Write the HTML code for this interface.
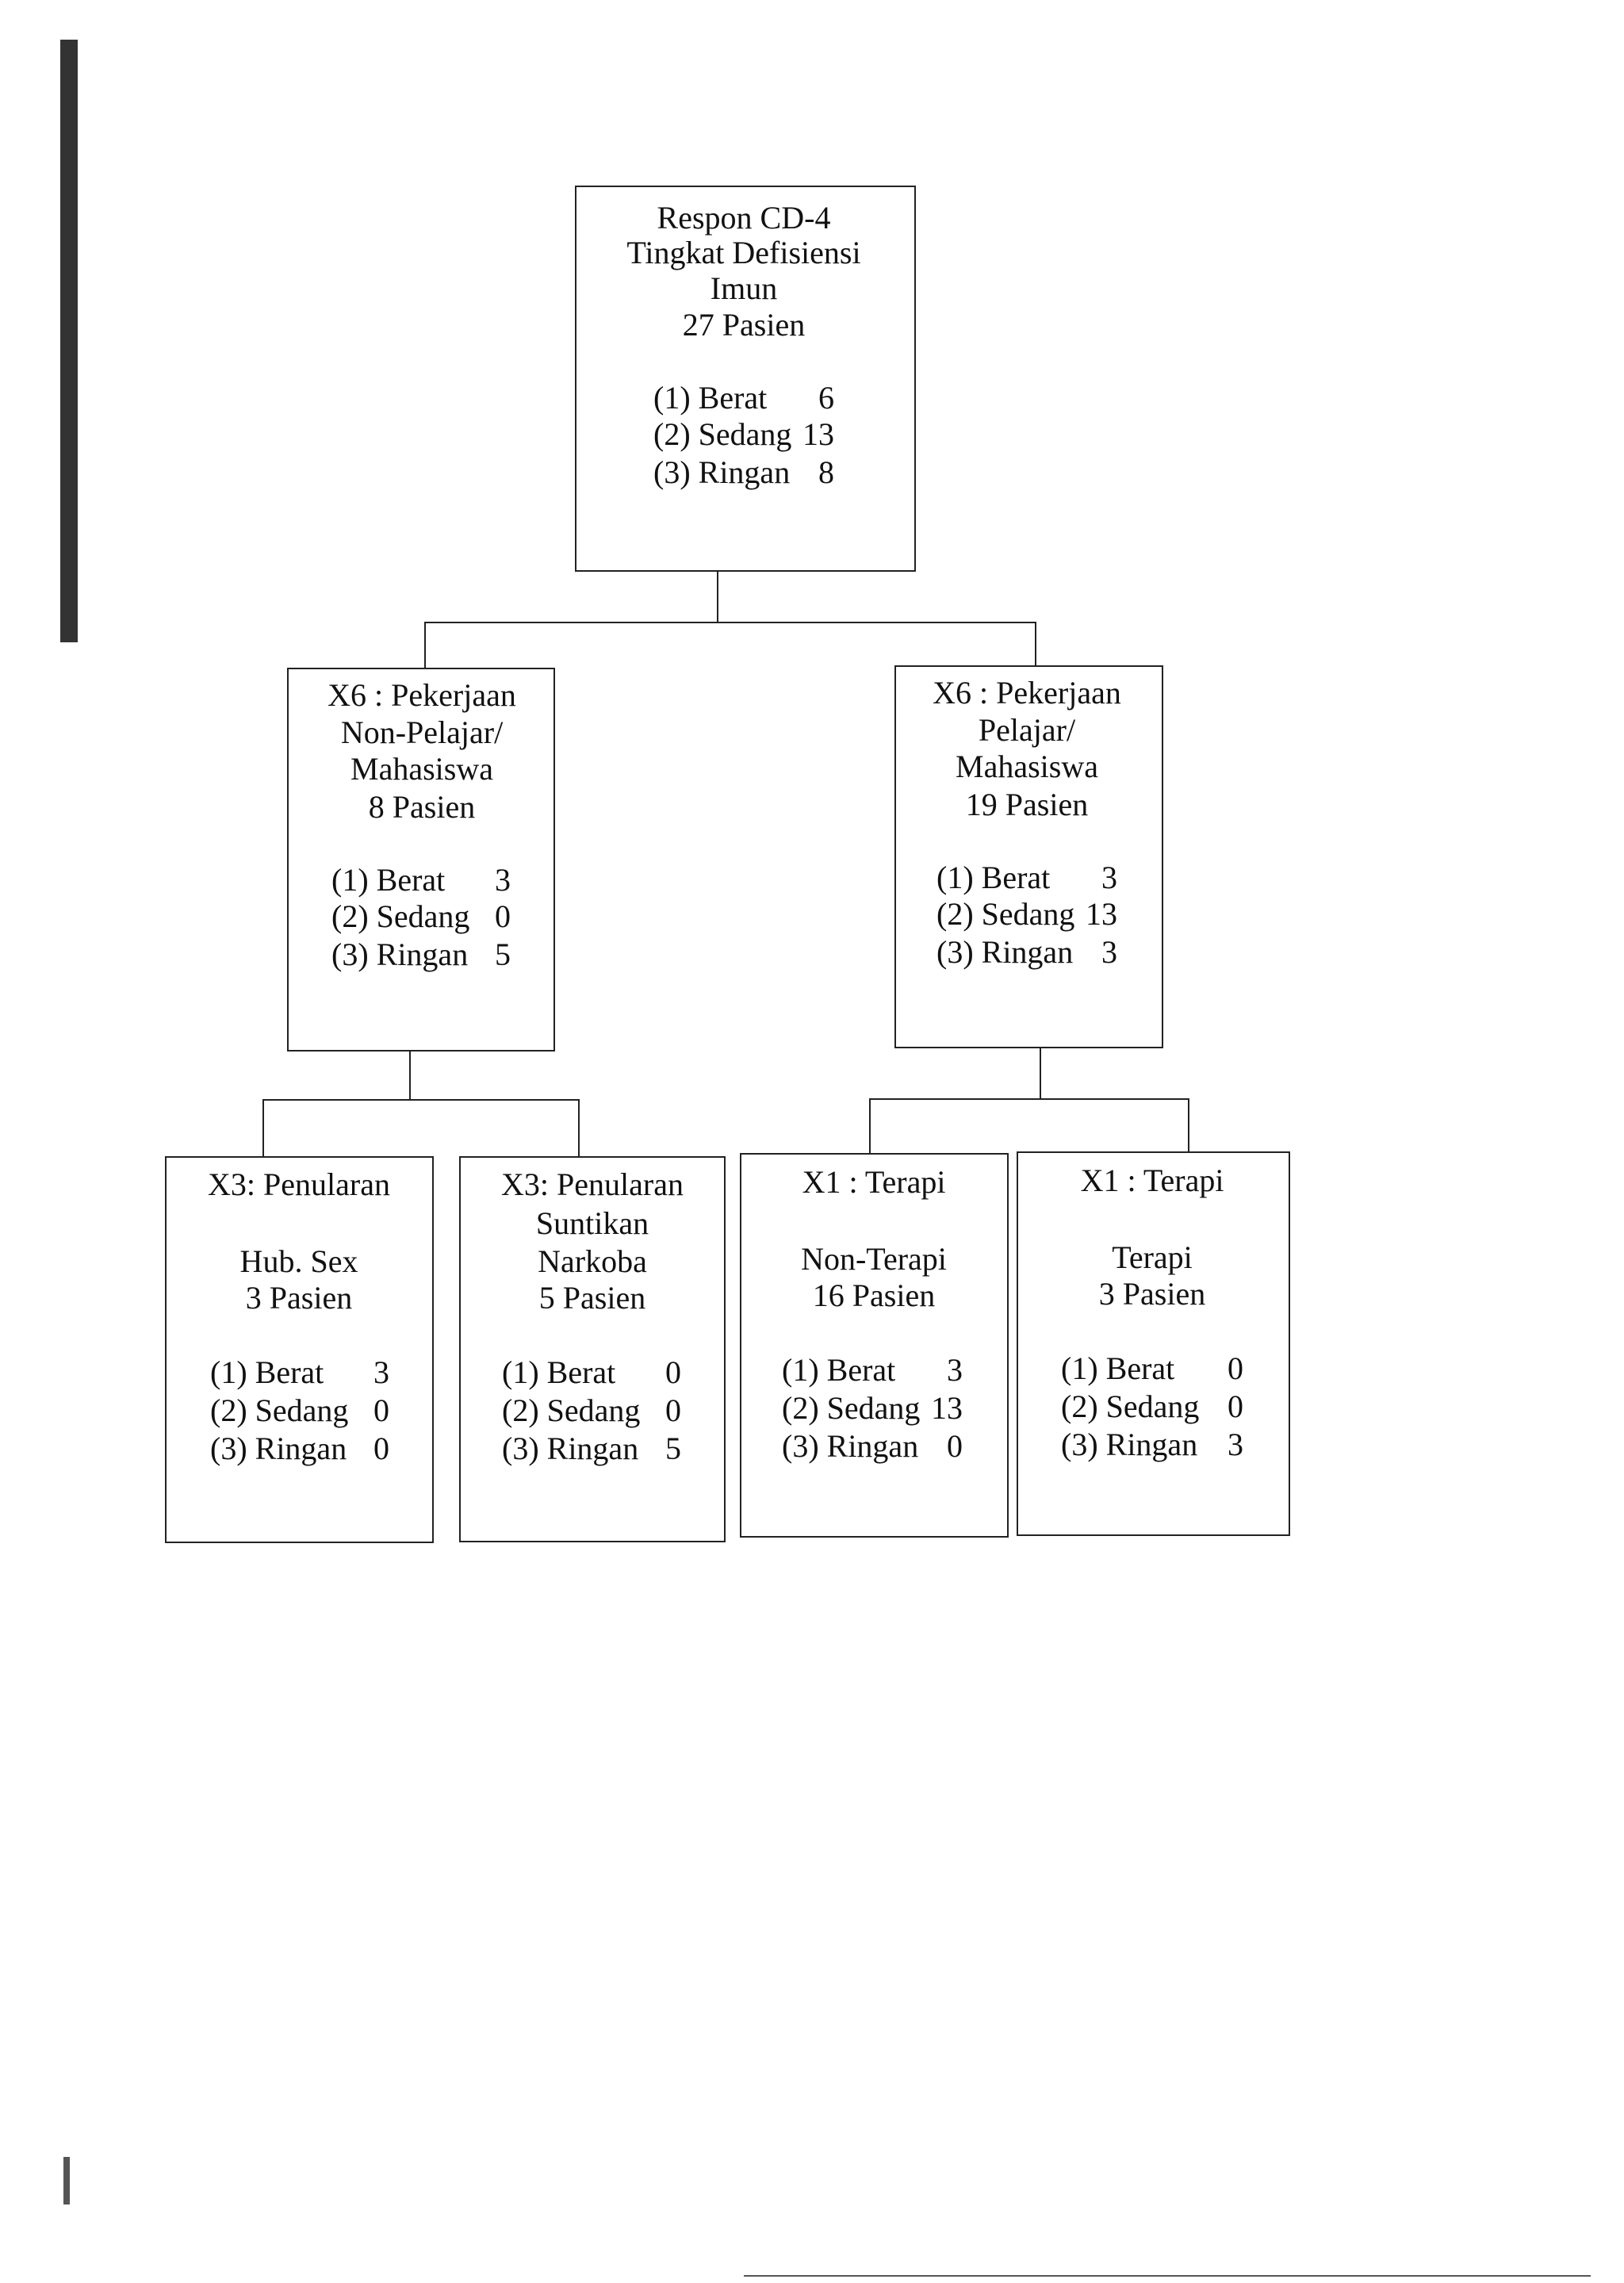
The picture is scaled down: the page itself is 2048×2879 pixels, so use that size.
<!DOCTYPE html>
<html><head><meta charset="utf-8"><style>
body{margin:0;background:#fff;}
#c{position:relative;width:2048px;height:2879px;overflow:hidden;background:#fff;font-family:"Liberation Serif",serif;color:#111;font-size:40px;}
#d{position:absolute;left:-2px;top:-6px;width:2048px;height:2879px;}
.b{position:absolute;border:2px solid #222;box-sizing:border-box;}
.l{position:absolute;background:#222;}
.t{position:absolute;white-space:nowrap;transform:translate(-50%,-50%);line-height:1;}
.r{position:absolute;display:flex;justify-content:space-between;line-height:1;transform:translateY(-50%);}
</style></head><body><div id="c">
<div class="l" style="left:76px;top:50px;width:22px;height:760px;background:#333"></div>
<div class="l" style="left:80px;top:2720px;width:8px;height:60px;background:#555"></div>
<div class="l" style="left:938px;top:2869px;width:1068px;height:2px;background:#555"></div>
<div id="d">
<div class="b" style="left:727px;top:240px;width:430px;height:487px"></div>
<div class="t" style="left:940px;top:281px">Respon CD-4</div>
<div class="t" style="left:940px;top:325px">Tingkat Defisiensi</div>
<div class="t" style="left:940px;top:370px">Imun</div>
<div class="t" style="left:940px;top:416px">27 Pasien</div>
<div class="r" style="left:826px;top:508px;width:228px"><span>(1) Berat</span><span>6</span></div>
<div class="r" style="left:826px;top:554px;width:228px"><span>(2) Sedang</span><span>13</span></div>
<div class="r" style="left:826px;top:602px;width:228px"><span>(3) Ringan</span><span>8</span></div>

<div class="l" style="left:906px;top:726px;width:2px;height:66px"></div>
<div class="l" style="left:537px;top:790px;width:772px;height:2px"></div>
<div class="l" style="left:537px;top:790px;width:2px;height:58px"></div>
<div class="l" style="left:1307px;top:790px;width:2px;height:56px"></div>

<div class="b" style="left:364px;top:848px;width:338px;height:484px"></div>
<div class="t" style="left:534px;top:883px">X6 : Pekerjaan</div>
<div class="t" style="left:534px;top:930px">Non-Pelajar/</div>
<div class="t" style="left:534px;top:976px">Mahasiswa</div>
<div class="t" style="left:534px;top:1024px">8 Pasien</div>
<div class="r" style="left:420px;top:1116px;width:226px"><span>(1) Berat</span><span>3</span></div>
<div class="r" style="left:420px;top:1162px;width:226px"><span>(2) Sedang</span><span>0</span></div>
<div class="r" style="left:420px;top:1210px;width:226px"><span>(3) Ringan</span><span>5</span></div>

<div class="b" style="left:1130px;top:845px;width:339px;height:483px"></div>
<div class="t" style="left:1297px;top:880px">X6 : Pekerjaan</div>
<div class="t" style="left:1297px;top:927px">Pelajar/</div>
<div class="t" style="left:1297px;top:973px">Mahasiswa</div>
<div class="t" style="left:1297px;top:1021px">19 Pasien</div>
<div class="r" style="left:1183px;top:1113px;width:228px"><span>(1) Berat</span><span>3</span></div>
<div class="r" style="left:1183px;top:1159px;width:228px"><span>(2) Sedang</span><span>13</span></div>
<div class="r" style="left:1183px;top:1207px;width:228px"><span>(3) Ringan</span><span>3</span></div>

<div class="l" style="left:518px;top:1331px;width:2px;height:63px"></div>
<div class="l" style="left:333px;top:1392px;width:400px;height:2px"></div>
<div class="l" style="left:333px;top:1392px;width:2px;height:72px"></div>
<div class="l" style="left:731px;top:1392px;width:2px;height:72px"></div>
<div class="l" style="left:1313px;top:1327px;width:2px;height:66px"></div>
<div class="l" style="left:1098px;top:1391px;width:404px;height:2px"></div>
<div class="l" style="left:1098px;top:1391px;width:2px;height:69px"></div>
<div class="l" style="left:1500px;top:1391px;width:2px;height:67px"></div>

<div class="b" style="left:210px;top:1464px;width:339px;height:488px"></div>
<div class="t" style="left:379px;top:1500px">X3: Penularan</div>
<div class="t" style="left:379px;top:1597px">Hub. Sex</div>
<div class="t" style="left:379px;top:1643px">3 Pasien</div>
<div class="r" style="left:267px;top:1737px;width:226px"><span>(1) Berat</span><span>3</span></div>
<div class="r" style="left:267px;top:1785px;width:226px"><span>(2) Sedang</span><span>0</span></div>
<div class="r" style="left:267px;top:1833px;width:226px"><span>(3) Ringan</span><span>0</span></div>

<div class="b" style="left:581px;top:1464px;width:336px;height:487px"></div>
<div class="t" style="left:749px;top:1500px">X3: Penularan</div>
<div class="t" style="left:749px;top:1549px">Suntikan</div>
<div class="t" style="left:749px;top:1597px">Narkoba</div>
<div class="t" style="left:749px;top:1643px">5 Pasien</div>
<div class="r" style="left:635px;top:1737px;width:226px"><span>(1) Berat</span><span>0</span></div>
<div class="r" style="left:635px;top:1785px;width:226px"><span>(2) Sedang</span><span>0</span></div>
<div class="r" style="left:635px;top:1833px;width:226px"><span>(3) Ringan</span><span>5</span></div>

<div class="b" style="left:935px;top:1460px;width:339px;height:485px"></div>
<div class="t" style="left:1104px;top:1497px">X1 : Terapi</div>
<div class="t" style="left:1104px;top:1594px">Non-Terapi</div>
<div class="t" style="left:1104px;top:1640px">16 Pasien</div>
<div class="r" style="left:988px;top:1734px;width:228px"><span>(1) Berat</span><span>3</span></div>
<div class="r" style="left:988px;top:1782px;width:228px"><span>(2) Sedang</span><span>13</span></div>
<div class="r" style="left:988px;top:1830px;width:228px"><span>(3) Ringan</span><span>0</span></div>

<div class="b" style="left:1284px;top:1458px;width:345px;height:485px"></div>
<div class="t" style="left:1455px;top:1495px">X1 : Terapi</div>
<div class="t" style="left:1455px;top:1592px">Terapi</div>
<div class="t" style="left:1455px;top:1638px">3 Pasien</div>
<div class="r" style="left:1340px;top:1732px;width:230px"><span>(1) Berat</span><span>0</span></div>
<div class="r" style="left:1340px;top:1780px;width:230px"><span>(2) Sedang</span><span>0</span></div>
<div class="r" style="left:1340px;top:1828px;width:230px"><span>(3) Ringan</span><span>3</span></div>
</div>
</div></body></html>
